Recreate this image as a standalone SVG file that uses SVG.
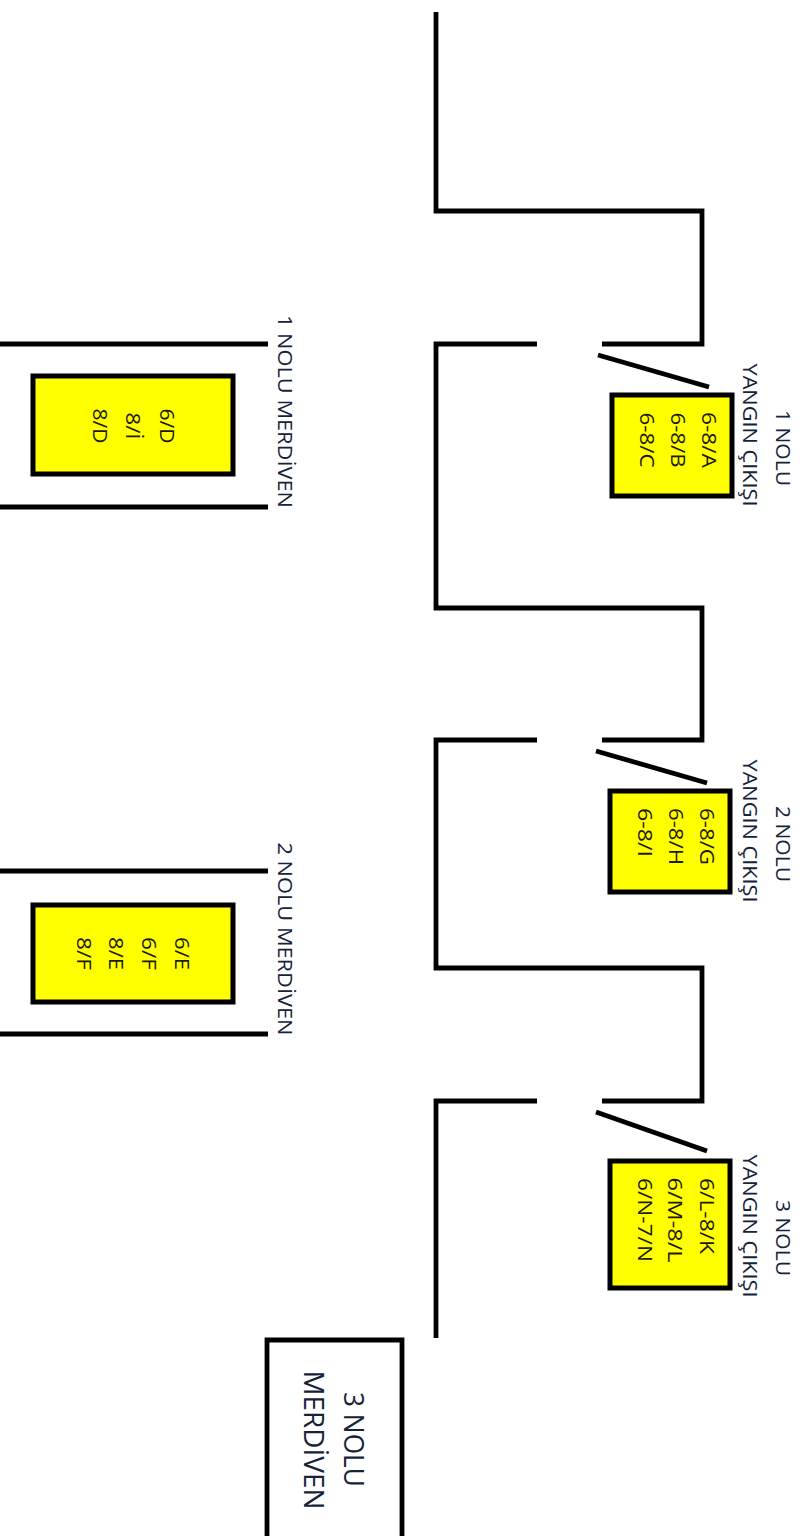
<svg xmlns="http://www.w3.org/2000/svg" width="802" height="1536" viewBox="0 0 802 1536">
<style>
.w{fill:none;stroke:#000;stroke-width:4.8}
.b{fill:#ff0;stroke:#000;stroke-width:5}
.t{font-family:"Open Sans","Noto Sans",sans-serif;font-size:20px;fill:#1a1a00;text-anchor:middle}
.l{font-family:"Open Sans","Noto Sans",sans-serif;font-size:20px;fill:#14233a;text-anchor:middle}
.g{font-size:27px}
</style>
<rect width="802" height="1536" fill="#fff"/>
<g id="connectors">
<path class="w" d="M436 12V211H702V344H602"/>
<path class="w" d="M537 344H436V608H702V740H602"/>
<path class="w" d="M537 740H436V968H702V1101H602"/>
<path class="w" d="M537 1101H436V1338"/>
<path class="w" d="M598 355L709 387"/>
<path class="w" d="M596 751L707 783"/>
<path class="w" d="M596 1112L707 1151"/>
<path class="w" d="M0 344H268M0 507H268"/>
<path class="w" d="M0 871H268M0 1034H268"/>
</g>
<g id="exit1">
<rect class="b" x="612" y="395" width="120" height="101"/>
<text class="t" transform="translate(702 440) rotate(90)" textLength="56" lengthAdjust="spacingAndGlyphs">6-8/A</text>
<text class="t" transform="translate(671 440) rotate(90)" textLength="55" lengthAdjust="spacingAndGlyphs">6-8/B</text>
<text class="t" transform="translate(640 440) rotate(90)" textLength="55" lengthAdjust="spacingAndGlyphs">6-8/C</text>
<text class="l" transform="translate(776 448) rotate(90)" textLength="76" lengthAdjust="spacingAndGlyphs">1 NOLU</text>
<text class="l" transform="translate(743 435) rotate(90)" textLength="143" lengthAdjust="spacingAndGlyphs">YANGIN ÇIKIŞI</text>
</g>
<g id="exit2">
<rect class="b" x="610" y="791" width="120" height="101"/>
<text class="t" transform="translate(700 836.5) rotate(90)" textLength="57" lengthAdjust="spacingAndGlyphs">6-8/G</text>
<text class="t" transform="translate(669 836.5) rotate(90)" textLength="57" lengthAdjust="spacingAndGlyphs">6-8/H</text>
<text class="t" transform="translate(638 832.5) rotate(90)" textLength="49" lengthAdjust="spacingAndGlyphs">6-8/I</text>
<text class="l" transform="translate(776 844) rotate(90)" textLength="76" lengthAdjust="spacingAndGlyphs">2 NOLU</text>
<text class="l" transform="translate(743 831) rotate(90)" textLength="143" lengthAdjust="spacingAndGlyphs">YANGIN ÇIKIŞI</text>
</g>
<g id="exit3">
<rect class="b" x="610" y="1161" width="120" height="127"/>
<text class="t" transform="translate(700 1216) rotate(90)" textLength="76" lengthAdjust="spacingAndGlyphs">6/L-8/K</text>
<text class="t" transform="translate(668 1220) rotate(90)" textLength="85" lengthAdjust="spacingAndGlyphs">6/M-8/L</text>
<text class="t" transform="translate(638 1220) rotate(90)" textLength="84" lengthAdjust="spacingAndGlyphs">6/N-7/N</text>
<text class="l" transform="translate(776 1238) rotate(90)" textLength="76" lengthAdjust="spacingAndGlyphs">3 NOLU</text>
<text class="l" transform="translate(743 1226) rotate(90)" textLength="143" lengthAdjust="spacingAndGlyphs">YANGIN ÇIKIŞI</text>
</g>
<g id="stair1">
<rect class="b" x="33" y="376" width="200" height="98"/>
<text class="t" transform="translate(160 426) rotate(90)" textLength="35" lengthAdjust="spacingAndGlyphs">6/D</text>
<text class="t" transform="translate(126 426) rotate(90)" textLength="27" lengthAdjust="spacingAndGlyphs">8/İ</text>
<text class="t" transform="translate(93 426) rotate(90)" textLength="35" lengthAdjust="spacingAndGlyphs">8/D</text>
<text class="l" transform="translate(278 411.5) rotate(90)" textLength="193" lengthAdjust="spacingAndGlyphs">1 NOLU MERDİVEN</text>
</g>
<g id="stair2">
<rect class="b" x="33" y="905" width="200" height="97"/>
<text class="t" transform="translate(175 953.5) rotate(90)" textLength="33" lengthAdjust="spacingAndGlyphs">6/E</text>
<text class="t" transform="translate(142 953.5) rotate(90)" textLength="33" lengthAdjust="spacingAndGlyphs">6/F</text>
<text class="t" transform="translate(109 953.5) rotate(90)" textLength="33" lengthAdjust="spacingAndGlyphs">8/E</text>
<text class="t" transform="translate(77 953.5) rotate(90)" textLength="33" lengthAdjust="spacingAndGlyphs">8/F</text>
<text class="l" transform="translate(278 939) rotate(90)" textLength="193" lengthAdjust="spacingAndGlyphs">2 NOLU MERDİVEN</text>
</g>
<g id="stair3">
<path class="w" d="M267 1536V1340H402V1536"/>
<text class="l g" transform="translate(344 1439.5) rotate(90)" textLength="95" lengthAdjust="spacingAndGlyphs">3 NOLU</text>
<text class="l g" transform="translate(304 1440) rotate(90)" textLength="139" lengthAdjust="spacingAndGlyphs">MERDİVEN</text>
</g>
</svg>
